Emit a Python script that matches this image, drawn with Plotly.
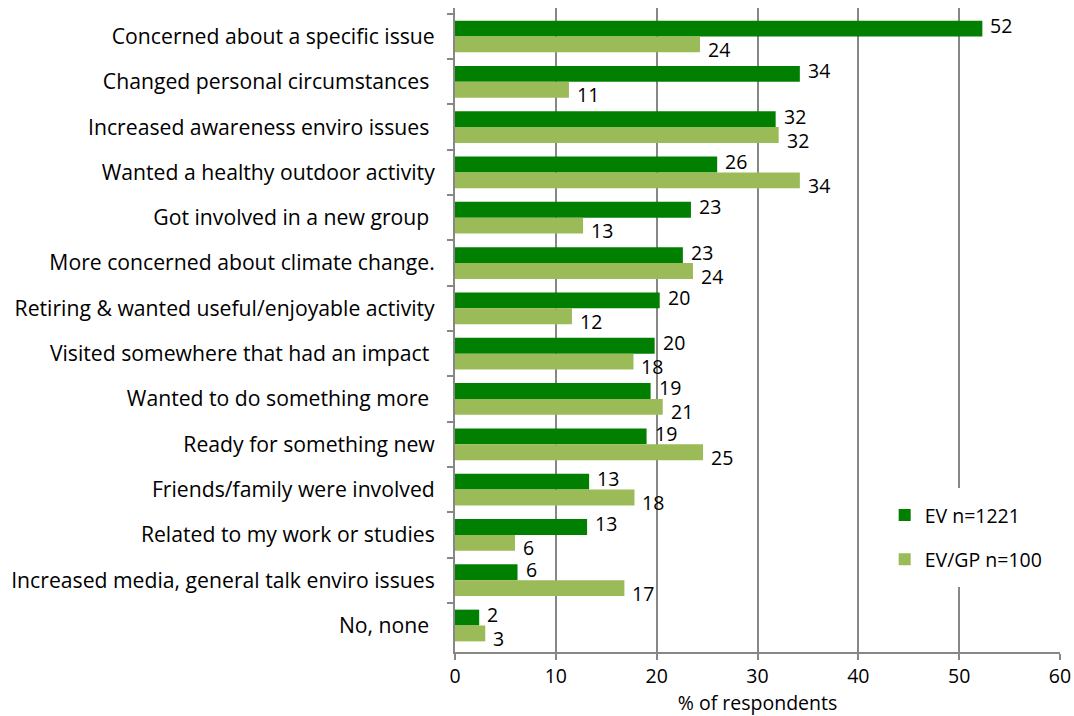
import plotly.graph_objects as go

categories = [
    "Concerned about a specific issue",
    "Changed personal circumstances ",
    "Increased awareness enviro issues ",
    "Wanted a healthy outdoor activity",
    "Got involved in a new group ",
    "More concerned about climate change.",
    "Retiring & wanted useful/enjoyable activity",
    "Visited somewhere that had an impact ",
    "Wanted to do something more ",
    "Ready for something new",
    "Friends/family were involved",
    "Related to my work or studies",
    "Increased media, general talk enviro issues",
    "No, none ",
]
ev = [52.3, 34.2, 31.8, 26.0, 23.4, 22.6, 20.3, 19.8, 19.4, 19.0, 13.3, 13.1, 6.2, 2.4]
gp = [24.3, 11.3, 32.1, 34.2, 12.7, 23.6, 11.6, 17.7, 20.6, 24.6, 17.8, 5.95, 16.8, 3.0]

FONT = "Open Sans"
FS = 19.5
GRID = "#878787"
fig = go.Figure()
series = [("EV n=1221", ev, "#007f00", "a", 11), ("EV/GP n=100", gp, "#9bbb59", "b", -13)]
for name, vals, col, grp, ys in series:
    fig.add_trace(go.Bar(y=categories, x=vals, orientation="h", name=name,
                         marker=dict(color=col, line=dict(width=0)),
                         legendgroup=grp, hoverinfo="x+y"))
    for c, v in zip(categories, vals):
        fig.add_annotation(x=v, y=c, xref="x", yref="y", text=f"{v:.0f}",
                           showarrow=False, xanchor="left", yanchor="middle",
                           xshift=6, yshift=ys, font=dict(size=FS, color="black"))

fig.update_layout(
    width=1074, height=716,
    barmode="group", bargap=0.3, bargroupgap=0,
    plot_bgcolor="white", paper_bgcolor="white",
    font=dict(family=FONT, size=FS, color="black"),
    margin=dict(l=455, r=14, t=8, b=64),
    legend=dict(x=0.697, y=0.255, xanchor="left", yanchor="top", bgcolor="white",
                font=dict(size=FS), itemsizing="constant", tracegroupgap=16,
                borderwidth=8, bordercolor="white"),
    xaxis=dict(range=[0, 60], dtick=10, showgrid=True, gridcolor=GRID, gridwidth=2,
               showline=True, linecolor=GRID, linewidth=2, ticks="outside",
               tickcolor=GRID, ticklen=6, tickwidth=2, zeroline=False, automargin=False,
               tickfont=dict(size=FS),
               title=dict(text="% of respondents", standoff=4, font=dict(size=FS))),
    yaxis=dict(autorange="reversed", showline=True, linecolor=GRID, linewidth=2,
               ticks="outside", tickson="boundaries", tickcolor=GRID, ticklen=6,
               tickwidth=2, showgrid=False, automargin=False, ticklabelstandoff=14,
               tickfont=dict(size=21.2)),
)
fig.write_html("out.html", config={"displayModeBar": False},
               post_script="document.body.style.margin='0';document.body.style.overflow='hidden';")
